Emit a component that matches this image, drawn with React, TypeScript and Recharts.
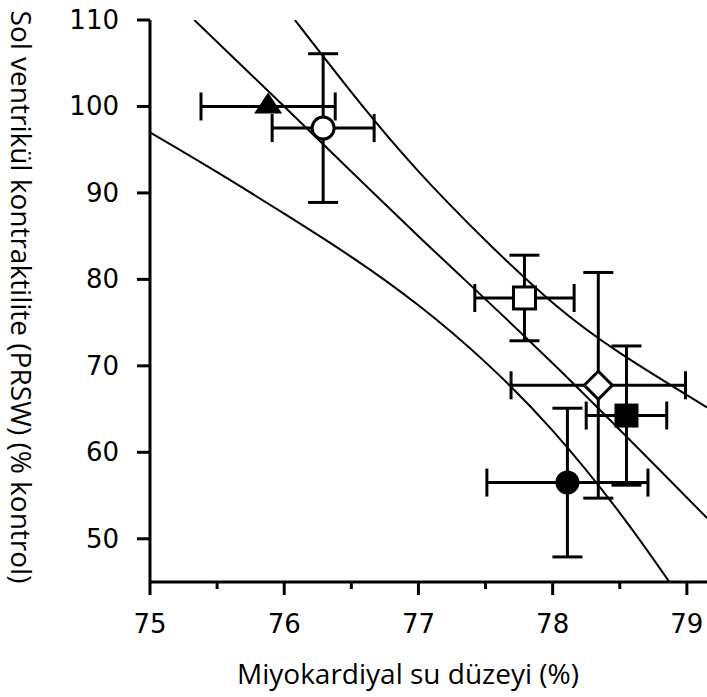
import React from "react";
import {
  ComposedChart,
  Line,
  Scatter,
  ErrorBar,
  XAxis,
  YAxis,
  Label,
} from "recharts";

// group means with SEM (x = myocardial water %, y = PRSW % of control)
const groupMarkers = ["triangle", "openCircle", "openSquare", "openDiamond", "filledSquare", "filledCircle"];
const groupWater = [75.88, 76.29, 77.79, 78.34, 78.55, 78.11];
const groupPrsw = [100.0, 97.5, 77.85, 67.75, 64.25, 56.5];
const groupWaterErr = [0.5, 0.38, 0.37, 0.65, 0.3, 0.6];
const groupPrswErr = [0, 8.6, 4.95, 13.05, 8.05, 8.6];

// three regression curves
const lowerCurve = [
  { x: 75.0, y: 97.0 },
  { x: 75.5, y: 92.4 },
  { x: 76.0, y: 87.6 },
  { x: 76.5, y: 82.6 },
  { x: 77.0, y: 77.0 },
  { x: 77.5, y: 70.4 },
  { x: 78.0, y: 62.5 },
  { x: 78.5, y: 53.0 },
  { x: 78.87, y: 45.0 },
];
const middleCurve = [
  { x: 75.33, y: 110.0 },
  { x: 76.0, y: 100.0 },
  { x: 77.0, y: 85.0 },
  { x: 78.0, y: 70.3 },
  { x: 79.15, y: 52.4 },
];
const upperCurve = [
  { x: 76.08, y: 110.0 },
  { x: 76.56, y: 100.5 },
  { x: 77.0, y: 92.5 },
  { x: 77.5, y: 84.5 },
  { x: 78.0, y: 77.3 },
  { x: 78.5, y: 71.5 },
  { x: 79.15, y: 65.2 },
];

const xTicks = [75, 75.5, 76, 76.5, 77, 77.5, 78, 78.5, 79];
const yTicks = [50, 60, 70, 80, 90, 100, 110];

const points = groupMarkers.map((m, i) => ({
  marker: m,
  x: groupWater[i],
  y: groupPrsw[i],
  ex: groupWaterErr[i],
  ey: groupPrswErr[i],
}));

const tickFont = "'DejaVu Sans', sans-serif";
const titleFont = "'Open Sans', sans-serif";

const MarkerShape = (props: any) => {
  const { cx, cy, payload } = props;
  switch (payload.marker) {
    case "triangle":
      return <polygon points={`${cx},${cy - 14} ${cx - 14},${cy + 7} ${cx + 14},${cy + 7}`} fill="#000" />;
    case "openCircle":
      return <circle cx={cx} cy={cy} r={11} fill="#fff" stroke="#000" strokeWidth={3} />;
    case "openSquare":
      return <rect x={cx - 11} y={cy - 11} width={22} height={22} fill="#fff" stroke="#000" strokeWidth={3} />;
    case "openDiamond":
      return (
        <polygon
          points={`${cx},${cy - 14} ${cx + 14},${cy} ${cx},${cy + 14} ${cx - 14},${cy}`}
          fill="#fff"
          stroke="#000"
          strokeWidth={3}
        />
      );
    case "filledSquare":
      return <rect x={cx - 12} y={cy - 12} width={24} height={24} fill="#000" />;
    default:
      return <circle cx={cx} cy={cy} r={12} fill="#000" />;
  }
};

const XTick = (props: any) => {
  const { x, y, payload } = props;
  const major = Number.isInteger(payload.value);
  return (
    <g>
      <line x1={x} x2={x} y1={y} y2={y + (major ? 13 : 7)} stroke="#000" strokeWidth={3} />
      {major && (
        <text x={x} y={y + 51} textAnchor="middle" fontFamily={tickFont} fontSize={26} fill="#000">
          {payload.value}
        </text>
      )}
    </g>
  );
};

const YTick = (props: any) => {
  const { x, y, payload } = props;
  return (
    <g>
      <line x1={x - 13} x2={x} y1={y} y2={y} stroke="#000" strokeWidth={3} />
      <text x={x - 31} y={y} textAnchor="end" dominantBaseline="central" fontFamily={tickFont} fontSize={26} fill="#000">
        {payload.value}
      </text>
    </g>
  );
};

export default function App() {
  return (
    <div style={{ position: "absolute", left: 0, top: 0, background: "#fff" }}>
      <ComposedChart width={707} height={697} margin={{ top: 20, right: 0, bottom: 0, left: 0 }}>
        <XAxis
          type="number"
          dataKey="x"
          domain={[75, 79.15]}
          ticks={xTicks}
          interval={0}
          height={115}
          tickSize={0}
          tickMargin={0}
          tickLine={false}
          axisLine={{ stroke: "#000", strokeWidth: 3 }}
          tick={<XTick />}
          allowDataOverflow
        >
          <Label
            content={() => (
              <text x={408} y={673} textAnchor="middle" dominantBaseline="central" fontFamily={titleFont} fontSize={28} fill="#000">
                Miyokardiyal su düzeyi (%)
              </text>
            )}
          />
        </XAxis>
        <YAxis
          type="number"
          dataKey="y"
          domain={[45, 110]}
          ticks={yTicks}
          interval={0}
          width={150}
          tickSize={0}
          tickMargin={0}
          tickLine={false}
          axisLine={{ stroke: "#000", strokeWidth: 3 }}
          tick={<YTick />}
          allowDataOverflow
        >
          <Label
            content={() => (
              <text
                x={22}
                y={297}
                transform="rotate(90 22 297)"
                textAnchor="middle"
                dominantBaseline="central"
                fontFamily={titleFont}
                fontSize={28}
                fill="#000"
              >
                Sol ventrikül kontraktilite (PRSW) (% kontrol)
              </text>
            )}
          />
        </YAxis>
        <Line data={lowerCurve} dataKey="y" type="natural" stroke="#000" strokeWidth={2} dot={false} isAnimationActive={false} />
        <Line data={middleCurve} dataKey="y" type="natural" stroke="#000" strokeWidth={2} dot={false} isAnimationActive={false} />
        <Line data={upperCurve} dataKey="y" type="natural" stroke="#000" strokeWidth={2} dot={false} isAnimationActive={false} />
        <Scatter data={points} dataKey="y" shape={<MarkerShape />} isAnimationActive={false}>
          <ErrorBar dataKey="ex" direction="x" width={14} stroke="#000" strokeWidth={3} isAnimationActive={false} />
          <ErrorBar dataKey="ey" direction="y" width={15} stroke="#000" strokeWidth={3} isAnimationActive={false} />
        </Scatter>
      </ComposedChart>
    </div>
  );
}
